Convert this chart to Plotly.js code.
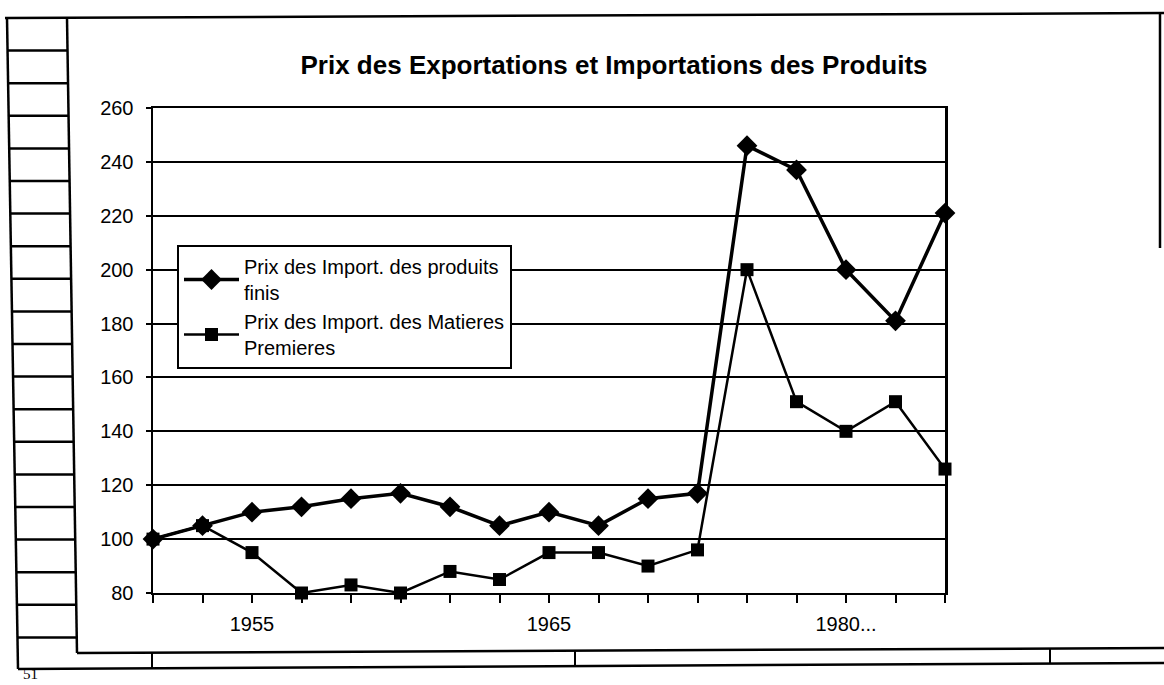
<!DOCTYPE html>
<html>
<head>
<meta charset="utf-8">
<script src="https://cdn.plot.ly/plotly-3.0.1.min.js"></script>
<style>
  html, body { margin: 0; padding: 0; background: #ffffff; }
  #chart { width: 1164px; height: 685px; }
</style>
</head>
<body>
<div id="chart"></div>
<script>
// ---- Data ----
const periodLabels = ["", "", "1955", "", "", "", "", "", "1965", "", "", "", "", "", "1980...", "", ""];
const seriesFinisName = "Prix des Import. des produits<br>finis";
const seriesFinis = [100, 105, 110, 112, 115, 117, 112, 105, 110, 105, 115, 117, 246, 237, 200, 181, 221];
const seriesMatieresName = "Prix des Import. des Matieres<br>Premieres";
const seriesMatieres = [100, 105, 95, 80, 83, 80, 88, 85, 95, 95, 90, 96, 200, 151, 140, 151, 126];
const yTicks = [80, 100, 120, 140, 160, 180, 200, 220, 240, 260];
const chartTitle = "Prix des Exportations et Importations des Produits";
const pageNumber = "51";

// ---- Layout geometry ----
const W = 1164, H = 685;
const M = { l: 153, r: 219, t: 108, b: 92 };
const PW = W - M.l - M.r, PH = H - M.t - M.b;
const px = x => (x - M.l) / PW;
const py = y => (H - M.b - y) / PH;
const xPos = periodLabels.map((_, i) => i);

function seg(x0, y0, x1, y1, w) {
  return { type: "line", xref: "paper", yref: "paper",
    x0: px(x0), y0: py(y0), x1: px(x1), y1: py(y1),
    line: { color: "#000", width: w || 2.5 } };
}

const shapes = [];
// page frame (scanned spreadsheet border)
shapes.push(seg(5, 18, 1164, 13, 2.5));
shapes.push(seg(7, 18, 18, 669, 2.5));
shapes.push(seg(67, 18, 77, 653, 2.5));
for (let i = 1; i < 20; i++) {
  const y = 18 + 32.6 * i;
  const f = (y - 18) / 651;
  shapes.push(seg(7 + 11 * f, y, 67 + 10 * f, y, 2.5));
}
shapes.push(seg(77, 653, 1164, 648, 2.5));
shapes.push(seg(18, 669, 1164, 663, 2.5));
shapes.push(seg(152, 653, 152, 668, 2));
shapes.push(seg(575, 651, 575, 666, 2));
shapes.push(seg(1050, 649, 1050, 664, 2));
shapes.push(seg(1160, 13, 1160, 248, 2.5));

const font = "Liberation Sans, Arial, Helvetica, sans-serif";

const traces = [
  {
    x: xPos, y: seriesFinis, name: seriesFinisName, type: "scatter", mode: "lines+markers",
    line: { color: "#000", width: 3.5 },
    marker: { symbol: "diamond", size: 16, color: "#000" },
    cliponaxis: false
  },
  {
    x: xPos, y: seriesMatieres, name: seriesMatieresName, type: "scatter", mode: "lines+markers",
    line: { color: "#000", width: 2.5 },
    marker: { symbol: "square", size: 13, color: "#000" },
    cliponaxis: false
  }
];

const layout = {
  width: W, height: H,
  margin: M,
  paper_bgcolor: "#fff", plot_bgcolor: "#fff",
  font: { family: font, color: "#000", size: 20 },
  showlegend: true,
  title: {
    text: "<b>" + chartTitle + "</b>",
    font: { family: font, size: 26, color: "#000" },
    x: 614 / W, xref: "container", xanchor: "center",
    y: 1 - 65 / H, yref: "container", yanchor: "middle"
  },
  xaxis: {
    range: [0, 16], tickmode: "array", tickvals: xPos, ticktext: periodLabels,
    ticks: "outside", ticklen: 8, tickwidth: 2, tickcolor: "#000",
    showgrid: false, zeroline: false,
    showline: true, linecolor: "#000", linewidth: 2, mirror: true,
    tickfont: { family: font, size: 20, color: "#000" },
    ticklabelstandoff: 4,
    fixedrange: true
  },
  yaxis: {
    range: [80, 260], tickmode: "array", tickvals: yTicks,
    ticks: "outside", ticklen: 5, tickwidth: 2, tickcolor: "#000",
    showgrid: true, gridcolor: "#000", gridwidth: 2, zeroline: false,
    showline: true, linecolor: "#000", linewidth: 2.5, mirror: true,
    tickfont: { family: font, size: 20, color: "#000" },
    ticklabelstandoff: 8,
    fixedrange: true
  },
  legend: {
    x: px(177), y: py(245), xanchor: "left", yanchor: "top",
    bgcolor: "#fff", bordercolor: "#000", borderwidth: 2,
    font: { family: font, size: 20, color: "#000" },
    itemwidth: 55, tracegroupgap: 0
  },
  shapes: shapes,
  annotations: [
    { text: pageNumber, xref: "paper", yref: "paper", x: px(30), y: py(684),
      xanchor: "center", yanchor: "bottom", showarrow: false,
      font: { family: "Liberation Serif, Times New Roman, serif", size: 15, color: "#000" } }
  ]
};

Plotly.newPlot("chart", traces, layout, { displayModeBar: false, staticPlot: true });
</script>
</body>
</html>
